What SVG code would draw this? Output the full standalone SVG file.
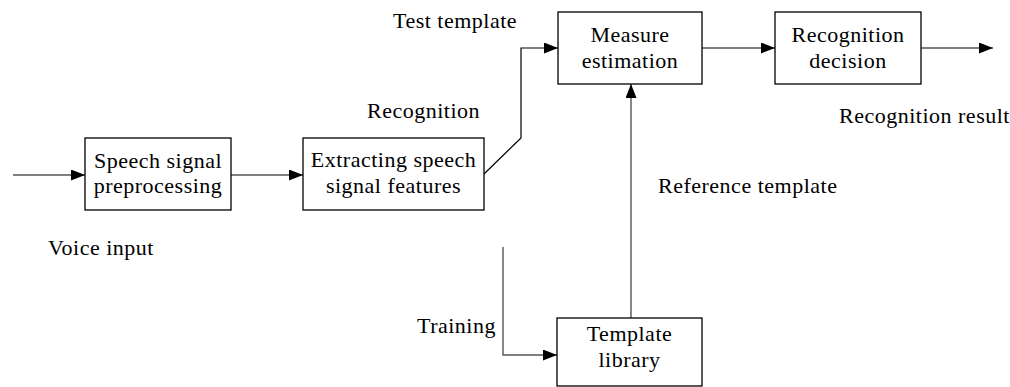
<svg xmlns="http://www.w3.org/2000/svg" width="1010" height="387" viewBox="0 0 1010 387">
<style>
.box{fill:#fff;stroke:#000;stroke-width:1.3}
.t{font-family:"Liberation Serif","Times New Roman",serif;font-size:22px;letter-spacing:0.5px;fill:#000}
.m{text-anchor:middle}
.c{fill:none;stroke:#000;stroke-width:1.2}
.g{fill:none;stroke:#555;stroke-width:1.4}
</style>
<defs>
<marker id="ah" viewBox="0 0 14 11" refX="14" refY="5.5" markerWidth="14" markerHeight="11" markerUnits="userSpaceOnUse" orient="auto">
<path d="M0,0 L14,5.5 L0,11 z" fill="#000"/>
</marker>
</defs>
<g id="connectors">
<line class="c" x1="13" y1="175" x2="85" y2="175" marker-end="url(#ah)"/>
<line class="c" x1="231" y1="175" x2="303" y2="175" marker-end="url(#ah)"/>
<polyline class="c" points="484,174 521,138 521,48 558,48" marker-end="url(#ah)"/>
<line class="c" x1="702" y1="48" x2="775" y2="48" marker-end="url(#ah)"/>
<line class="c" x1="921" y1="48" x2="993" y2="48" marker-end="url(#ah)"/>
<line class="g" x1="631" y1="318" x2="631" y2="84" marker-end="url(#ah)"/>
<polyline class="g" points="503,247 503,355 557,355" marker-end="url(#ah)"/>
</g>
<g id="n1"><rect class="box" x="85" y="138" width="146" height="72"/><text class="t m" x="158" y="168">Speech signal</text><text class="t m" x="158" y="193">preprocessing</text></g>
<g id="n2"><rect class="box" x="303" y="138" width="181" height="72"/><text class="t m" x="393.5" y="167">Extracting speech</text><text class="t m" x="393.5" y="193">signal features</text></g>
<g id="n3"><rect class="box" x="558" y="12" width="144" height="72"/><text class="t m" x="630" y="42">Measure</text><text class="t m" x="630" y="68">estimation</text></g>
<g id="n4"><rect class="box" x="775" y="12" width="146" height="72"/><text class="t m" x="848" y="42">Recognition</text><text class="t m" x="848" y="68">decision</text></g>
<g id="n5"><rect class="box" x="557" y="318" width="145" height="68"/><text class="t m" x="629.5" y="341">Template</text><text class="t m" x="629.5" y="367">library</text></g>
<g id="labels">
<text class="t" x="393" y="28">Test template</text>
<text class="t" x="367" y="118">Recognition</text>
<text class="t" x="839" y="123">Recognition result</text>
<text class="t" x="658" y="193">Reference template</text>
<text class="t" x="48" y="255">Voice input</text>
<text class="t" x="417" y="333">Training</text>
</g>
</svg>
